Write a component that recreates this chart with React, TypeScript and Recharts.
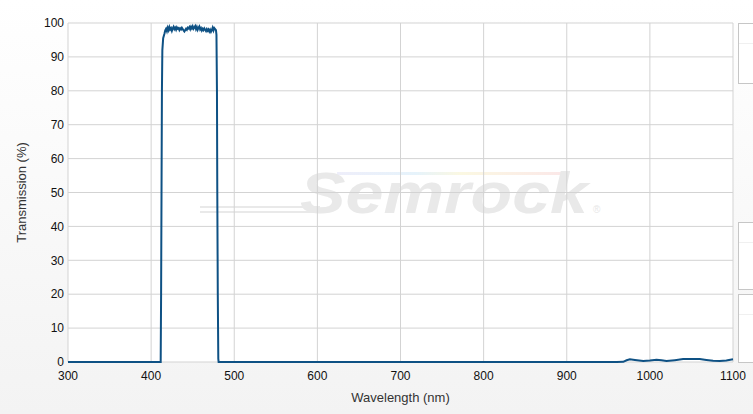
import React from 'react';
import { LineChart, Line, XAxis, YAxis, CartesianGrid } from 'recharts';

// wavelength (nm) and transmission (%)
const wavelengths = [
  300, 411.5, 412, 412.5, 413, 413.5, 414.5, 416, 417,
  418, 419, 420, 421, 422, 423, 424, 425, 426, 427, 428, 429, 430, 431, 432, 433, 434, 435, 436, 437,
  438, 439, 440, 441, 442, 443, 444, 445, 446, 447, 448, 449, 450, 451, 452, 453, 454, 455, 456, 457,
  458, 459, 460, 461, 462, 463, 464, 465, 466, 467, 468, 469, 470, 471, 472, 473, 474, 475, 476, 477,
  478, 478.6, 479.2, 479.6, 480.2, 480.8, 481.2,
  960, 968, 972, 976, 982, 992, 1000, 1008, 1014, 1020, 1030, 1040, 1050, 1060, 1068, 1076, 1084, 1092, 1100,
];

const transmission = [
  0, 0, 20, 50, 80, 92, 95.5, 96.8, 97.8,
  98.3, 97.6, 98.6, 97.9, 98.8, 98.1, 98.5, 97.7, 98.4, 98.9, 98.2, 98.6, 98.0, 98.7, 98.3, 98.5, 97.9, 98.4, 98.1, 98.6,
  98.2, 97.8, 97.5, 97.9, 98.3, 98.0, 98.6, 98.4, 98.8, 98.2, 98.9, 98.4, 99.0, 98.3, 98.7, 99.1, 98.2, 98.8, 98.0, 98.6,
  99.0, 98.1, 98.5, 97.8, 98.3, 97.9, 98.4, 98.0, 97.6, 98.2, 97.7, 98.1, 97.5, 98.0, 97.4, 97.9, 98.6, 97.8, 98.5, 98.2,
  97.9, 96.5, 80, 50, 20, 1, 0,
  0, 0.05, 0.5, 0.8, 0.6, 0.3, 0.45, 0.65, 0.5, 0.3, 0.55, 0.85, 0.9, 0.85, 0.6, 0.35, 0.3, 0.45, 0.8,
];

const xTicks = [300, 400, 500, 600, 700, 800, 900, 1000, 1100];
const yTicks = [0, 10, 20, 30, 40, 50, 60, 70, 80, 90, 100];

const data = wavelengths.map((w, i) => ({ wl: w, t: transmission[i] }));

const font = '"Liberation Sans", Arial, sans-serif';

function SidePanel({ top, height }: { top: number; height: number }) {
  return (
    <div
      style={{
        position: 'absolute',
        left: 738,
        top,
        width: 30,
        height,
        boxSizing: 'border-box',
        border: '1px solid #c6c6c6',
        background: '#fff',
      }}
    >
      <div style={{ marginTop: 19, height: 1, background: '#f0f0f0' }} />
    </div>
  );
}

export default function App() {
  return (
    <div
      style={{
        position: 'absolute',
        left: 0,
        top: 0,
        width: 753,
        height: 414,
        overflow: 'hidden',
        background: 'linear-gradient(#ffffff, #f3f3f3)',
        fontFamily: font,
      }}
    >
      {/* plot background */}
      <div style={{ position: 'absolute', left: 68, top: 23, width: 665, height: 339, background: '#fff' }} />

      {/* watermark */}
      <svg width={753} height={414} style={{ position: 'absolute', left: 0, top: 0 }}>
        <defs>
          <linearGradient id="rainbow" x1="0" x2="1" y1="0" y2="0">
            <stop offset="0%" stopColor="#eeeefa" />
            <stop offset="35%" stopColor="#e6f3fb" />
            <stop offset="55%" stopColor="#fbf8e2" />
            <stop offset="100%" stopColor="#fbe8e8" />
          </linearGradient>
        </defs>
        <rect x={337} y={172} width={225} height={3} fill="url(#rainbow)" />
        <rect x={200} y={206} width={120} height={2} fill="#e9e9e9" />
        <rect x={200} y={211} width={115} height={2} fill="#e9e9e9" />
        <text
          x={300}
          y={213}
          fontSize={57}
          fontWeight="bold"
          fontStyle="italic"
          fill="#e9e9e9"
          textLength={288}
          lengthAdjust="spacingAndGlyphs"
          fontFamily={font}
        >
          Semrock
        </text>
        <text x={593} y={213} fontSize={10} fill="#e7e7e7" fontFamily={font}>
          ®
        </text>
      </svg>

      <SidePanel top={23} height={61} />
      <SidePanel top={222} height={68} />
      <SidePanel top={294} height={69} />

      <div style={{ position: 'absolute', left: 0, top: 0 }}>
        <LineChart width={753} height={414} data={data} margin={{ top: 23, right: 20, bottom: 8, left: 0 }}>
          <CartesianGrid stroke="#d3d3d3" strokeWidth={1} />
          <XAxis
            dataKey="wl"
            type="number"
            domain={[300, 1100]}
            ticks={xTicks}
            height={44}
            axisLine={false}
            tickLine={false}
            tickSize={6}
            tickMargin={3}
            tick={{ fontSize: 12, fill: '#111', fontFamily: font }}
            interval={0}
            label={{
              value: 'Wavelength (nm)',
              position: 'insideBottom',
              offset: 4,
              style: { fontSize: 13, fill: '#333', fontFamily: font },
            }}
          />
          <YAxis
            type="number"
            domain={[0, 100]}
            ticks={yTicks}
            width={68}
            axisLine={false}
            tickLine={false}
            tickSize={0}
            tickMargin={4}
            tick={{ fontSize: 12, fill: '#111', fontFamily: font }}
            interval={0}
            label={{
              value: 'Transmission (%)',
              angle: -90,
              position: 'insideLeft',
              offset: 21,
              style: { fontSize: 13, fill: '#333', fontFamily: font, textAnchor: 'middle' },
            }}
          />
          <Line
            type="linear"
            dataKey="t"
            stroke="#0e5184"
            strokeWidth={2}
            dot={false}
            activeDot={false}
            isAnimationActive={false}
          />
        </LineChart>
      </div>
    </div>
  );
}
